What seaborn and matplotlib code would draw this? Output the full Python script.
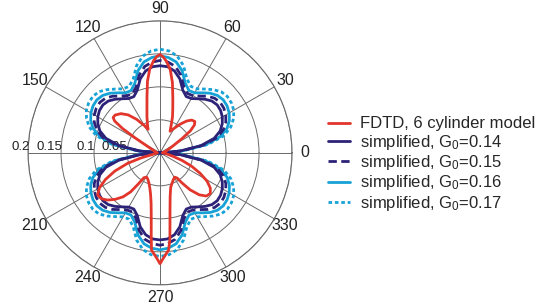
import matplotlib
matplotlib.use('Agg')
import matplotlib.pyplot as plt
import numpy as np
import seaborn as sns

# FDTD pattern, angle in degrees and radius
fdtd_deg = [0, 10, 20, 28, 33, 36, 39, 42, 46, 50, 55, 60, 65, 68, 71, 74, 77, 80, 83, 86, 88,
            90, 92, 94, 97, 100, 103, 106, 110, 114, 117, 120, 125, 130, 135, 140, 143, 145, 147,
            149, 152, 158, 170, 180, 190, 195, 198, 202, 206, 210, 214, 218, 222, 226, 230, 233,
            235, 237, 241, 245, 250, 254, 257, 260, 262, 264, 265, 267, 268.5, 270, 271.5, 273,
            275, 276.5, 278, 280, 283, 287, 292, 297, 301, 304, 306, 309, 313, 317, 321, 325, 329,
            333, 337, 341, 345, 352, 360]
fdtd_r = [0.004, 0.006, 0.012, 0.022, 0.040, 0.057, 0.067, 0.071, 0.069, 0.063, 0.053, 0.043,
          0.036, 0.045, 0.058, 0.070, 0.086, 0.108, 0.127, 0.139, 0.145,
          0.149, 0.146, 0.140, 0.128, 0.110, 0.088, 0.072, 0.058, 0.047, 0.040, 0.048, 0.062,
          0.075, 0.084, 0.089, 0.089, 0.084, 0.068,
          0.045, 0.024, 0.012, 0.006, 0.004, 0.008, 0.030, 0.052, 0.074, 0.092, 0.106, 0.114,
          0.113, 0.107, 0.098, 0.087, 0.074,
          0.058, 0.045, 0.042, 0.044, 0.049, 0.056, 0.064, 0.078, 0.096, 0.128, 0.148, 0.155,
          0.161, 0.168, 0.161, 0.155,
          0.148, 0.132, 0.108, 0.087, 0.068, 0.055, 0.049, 0.045, 0.043, 0.046, 0.056, 0.072,
          0.087, 0.096, 0.098, 0.093, 0.083,
          0.068, 0.052, 0.035, 0.020, 0.009, 0.004]

# simplified model, every 5 degrees from 0 to 360
sim_deg = list(range(0, 361, 5))
g014 = [0.000, 0.030, 0.063, 0.085, 0.097, 0.104, 0.109, 0.112, 0.113, 0.111, 0.106, 0.100, 0.095,
        0.094, 0.101, 0.116, 0.126, 0.131, 0.132,
        0.131, 0.126, 0.116, 0.101, 0.094, 0.095, 0.100, 0.106, 0.111, 0.113, 0.112, 0.109, 0.104,
        0.097, 0.085, 0.063, 0.030, 0.000,
        0.030, 0.063, 0.085, 0.097, 0.104, 0.109, 0.112, 0.113, 0.111, 0.106, 0.100, 0.095, 0.094,
        0.101, 0.116, 0.126, 0.131, 0.132,
        0.131, 0.126, 0.116, 0.101, 0.094, 0.095, 0.100, 0.106, 0.111, 0.113, 0.112, 0.109, 0.104,
        0.097, 0.085, 0.063, 0.030, 0.000]
g015 = [0.000, 0.032, 0.066, 0.090, 0.102, 0.110, 0.115, 0.118, 0.119, 0.117, 0.112, 0.105, 0.100,
        0.099, 0.106, 0.122, 0.133, 0.138, 0.140,
        0.138, 0.133, 0.122, 0.106, 0.099, 0.100, 0.105, 0.112, 0.117, 0.119, 0.118, 0.115, 0.110,
        0.102, 0.090, 0.066, 0.032, 0.000,
        0.032, 0.066, 0.090, 0.102, 0.110, 0.115, 0.118, 0.119, 0.117, 0.112, 0.105, 0.100, 0.099,
        0.106, 0.122, 0.133, 0.138, 0.140,
        0.138, 0.133, 0.122, 0.106, 0.099, 0.100, 0.105, 0.112, 0.117, 0.119, 0.118, 0.115, 0.110,
        0.102, 0.090, 0.066, 0.032, 0.000]
g016 = [0.000, 0.033, 0.070, 0.094, 0.108, 0.116, 0.121, 0.124, 0.125, 0.123, 0.118, 0.111, 0.105,
        0.104, 0.112, 0.129, 0.140, 0.145, 0.147,
        0.145, 0.140, 0.129, 0.112, 0.104, 0.105, 0.111, 0.118, 0.123, 0.125, 0.124, 0.121, 0.116,
        0.108, 0.094, 0.070, 0.033, 0.000,
        0.033, 0.070, 0.094, 0.108, 0.116, 0.121, 0.124, 0.125, 0.123, 0.118, 0.111, 0.105, 0.104,
        0.112, 0.129, 0.140, 0.145, 0.147,
        0.145, 0.140, 0.129, 0.112, 0.104, 0.105, 0.111, 0.118, 0.123, 0.125, 0.124, 0.121, 0.116,
        0.108, 0.094, 0.070, 0.033, 0.000]
g017 = [0.000, 0.035, 0.074, 0.100, 0.114, 0.123, 0.129, 0.132, 0.133, 0.131, 0.125, 0.118, 0.112,
        0.111, 0.119, 0.137, 0.149, 0.155, 0.157,
        0.155, 0.149, 0.137, 0.119, 0.111, 0.112, 0.118, 0.125, 0.131, 0.133, 0.132, 0.129, 0.123,
        0.114, 0.100, 0.074, 0.035, 0.000,
        0.035, 0.074, 0.100, 0.114, 0.123, 0.129, 0.132, 0.133, 0.131, 0.125, 0.118, 0.112, 0.111,
        0.119, 0.137, 0.149, 0.155, 0.157,
        0.155, 0.149, 0.137, 0.119, 0.111, 0.112, 0.118, 0.125, 0.131, 0.133, 0.132, 0.129, 0.123,
        0.114, 0.100, 0.074, 0.035, 0.000]

r_ticks = [0.05, 0.1, 0.15, 0.2]
r_labels = ['0.05', '0.1', '0.15', '0.2']
theta_ticks = list(range(0, 360, 30))
theta_labels = ['' if t == 180 else str(t) for t in theta_ticks]

sns.set_theme(style='white')
plt.rcParams['font.family'] = ['Liberation Sans', 'DejaVu Sans']

fig = plt.figure(figsize=(5.5, 3.08), dpi=100)
# circle centred near (160, 153) px with a radius of ~132 px
ax = fig.add_axes([0.051, 0.0753, 0.48, 0.857], projection='polar')

navy = '#2c2277'
cyan = '#17a2d6'
series = [
    (fdtd_deg, fdtd_r, 'FDTD, 6 cylinder model', '#e2362c', '-', 6),
    (sim_deg, g014, r'simplified, $\mathregular{G_0}$=0.14', navy, '-', 5),
    (sim_deg, g015, r'simplified, $\mathregular{G_0}$=0.15', navy, (0, (3, 1.6)), 4),
    (sim_deg, g016, r'simplified, $\mathregular{G_0}$=0.16', cyan, '-', 3),
    (sim_deg, g017, r'simplified, $\mathregular{G_0}$=0.17', cyan, (0, (1.3, 1.0)), 2),
]
for deg, r, lab, col, ls, z in series:
    sns.lineplot(x=np.deg2rad(deg), y=r, ax=ax, sort=False, estimator=None, color=col,
                 linestyle=ls, linewidth=2, label=lab, legend=False, zorder=z)

ax.set_ylim(0, 0.2)
ax.set_thetagrids(theta_ticks, theta_labels, fontsize=11.5, color='#222222')
ax.set_rgrids(r_ticks, labels=[''] * len(r_ticks))
ax.grid(True, color='#6a6a6a', linewidth=0.7)
ax.spines['polar'].set_color('#6a6a6a')
ax.spines['polar'].set_linewidth(0.8)
ax.tick_params(axis='x', length=0, pad=2)
ax.tick_params(axis='y', length=0)
ax.set_xlabel('')
ax.set_ylabel('')

for rv, lab in zip(r_ticks, r_labels):
    ax.text(np.pi, rv * 0.985, lab, ha='right', va='bottom', fontsize=9.5, color='#222222')

handles, labels = ax.get_legend_handles_labels()
fig.legend(handles, labels, loc='upper left', bbox_to_anchor=(0.596, 0.622), frameon=False,
           fontsize=12, handlelength=1.35, handletextpad=0.6, labelspacing=0.08,
           borderpad=0, borderaxespad=0)

fig.savefig('out.png', dpi=100)
